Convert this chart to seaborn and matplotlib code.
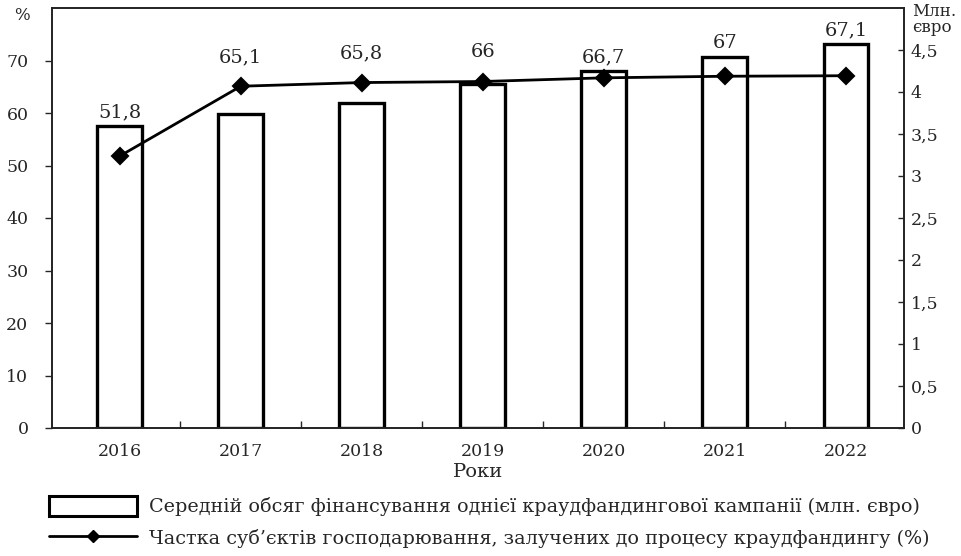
import matplotlib
matplotlib.use("Agg")
import matplotlib.pyplot as plt
import pandas as pd
import seaborn as sns
from matplotlib.lines import Line2D
from matplotlib.patches import Patch

# data
years = ["2016", "2017", "2018", "2019", "2020", "2021", "2022"]
avg_funding = [3.59, 3.74, 3.87, 4.09, 4.25, 4.42, 4.57]      # млн. євро (right axis)
share_pct = [51.8, 65.1, 65.8, 66.0, 66.7, 67.0, 67.1]        # % (left axis)
share_labels = ["51,8", "65,1", "65,8", "66", "66,7", "67", "67,1"]

left_ticks = [0, 10, 20, 30, 40, 50, 60, 70]
right_ticks = [0, 0.5, 1, 1.5, 2, 2.5, 3, 3.5, 4, 4.5]
right_tick_labels = ["0", "0,5", "1", "1,5", "2", "2,5", "3", "3,5", "4", "4,5"]

bar_label = "Середній обсяг фінансування однієї краудфандингової кампанії (млн. євро)"
line_label = "Частка суб’єктів господарювання, залучених до процесу краудфандингу (%)"

df = pd.DataFrame({"year": years, "funding": avg_funding, "share": share_pct})

sns.set_style("ticks")
plt.rcParams["font.family"] = ["DejaVu Serif", "Liberation Serif"]

fig = plt.figure(figsize=(9.61, 5.56), dpi=100)
ax = fig.add_axes([52 / 961, 1 - 428 / 556, (904 - 52) / 961, (428 - 8) / 556])

# bars on the main axes (right-hand scale) so the line sits on top
sns.barplot(data=df, x="year", y="funding", ax=ax, width=0.37,
            color="white", edgecolor="black", linewidth=2.4, errorbar=None)
ax.set_ylim(0, 5)
ax.set_xlim(-0.56, 6.48)

ax2 = ax.twinx()
sns.pointplot(data=df, x="year", y="share", ax=ax2, color="black",
              markers="D", linestyles="-", errorbar=None,
              markersize=8, linewidth=2)
ax2.set_ylim(0, 80)
ax2.set_xlim(-0.56, 6.48)

# swap sides: percent on the left, euro on the right
ax.yaxis.tick_right()
ax2.yaxis.tick_left()
ax.set_yticks(right_ticks, labels=right_tick_labels)
ax2.set_yticks(left_ticks)
ax.set_ylabel("")
ax2.set_ylabel("")
ax.set_xlabel("Роки", fontsize=14, labelpad=2)

ax.tick_params(axis="y", direction="in", length=4, width=1, pad=5, labelsize=12.5)
ax2.tick_params(axis="y", direction="out", length=5, width=1, pad=12, labelsize=12.5)
ax.tick_params(axis="x", which="major", length=0, pad=11, labelsize=12.5)
ax.set_xticks([0.5, 1.5, 2.5, 3.5, 4.5, 5.5], minor=True)
ax.tick_params(axis="x", which="minor", direction="in", length=5, width=1)

for a in (ax, ax2):
    for s in a.spines.values():
        s.set_visible(True)
        s.set_color("#222222")
        s.set_linewidth(1.2)

# value labels above the higher of bar top / line point
for i, (f, s, lab) in enumerate(zip(avg_funding, share_pct, share_labels)):
    line_y = s * 5 / 80
    if line_y > f:
        top, off = line_y, 21
    else:
        top, off = f, 10
    ax.annotate(lab, xy=(i, top), xytext=(0, off), textcoords="offset points",
                ha="center", va="center", fontsize=14, zorder=10)

fig.text(22 / 961, 1 - 15 / 556, "%", ha="center", va="center", fontsize=12)
fig.text(912 / 961, 1 - 3 / 556, "Млн.\nєвро", ha="left", va="top",
         fontsize=12, linespacing=0.9)

handles = [
    Patch(facecolor="white", edgecolor="black", linewidth=2.2),
    Line2D([0], [0], color="black", lw=2, marker="D", markersize=6),
]
fig.legend(handles, [bar_label, line_label], loc="upper left",
           bbox_to_anchor=(49 / 961, 1 - 496 / 556), frameon=False,
           fontsize=13.8, handlelength=4.6, handleheight=1.2,
           handletextpad=0.6, labelspacing=0.6, borderpad=0, borderaxespad=0)

fig.savefig("out.png", dpi=100)
